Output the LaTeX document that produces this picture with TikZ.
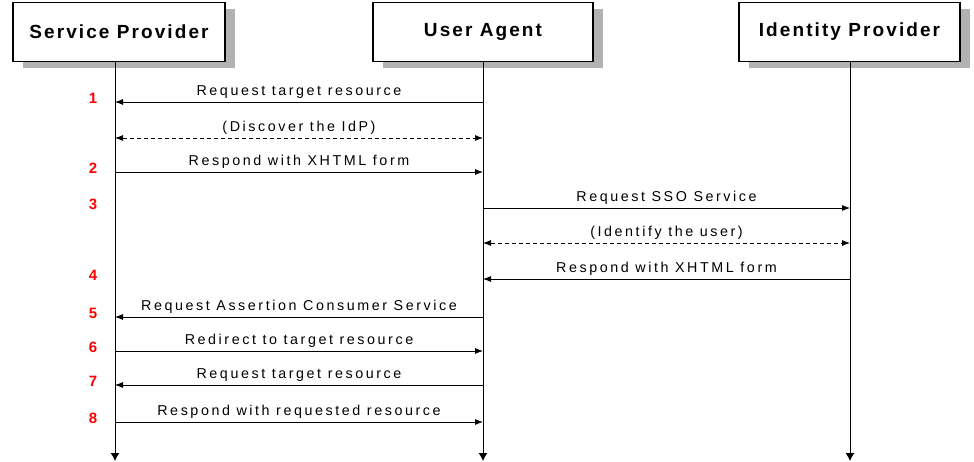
\documentclass[tikz,border=0pt]{standalone}
\usepackage{fontspec}
\usepackage{tikz}
\usetikzlibrary{arrows.meta,shadows}
\newfontfamily\lblfont[LetterSpace=18]{Liberation Sans}
\newfontfamily\ttlfont[LetterSpace=11]{Liberation Sans Bold}

\begin{document}
\begin{tikzpicture}[x=1pt,y=-1pt,
	actor_box/.style={rectangle,draw,line width=1.1pt,fill=white,minimum width=220pt,minimum height=59pt,
		font=\ttlfont\fontsize{19}{21}\selectfont,
		general shadow={fill=black!30,shadow xshift=10pt,shadow yshift=-7pt}},
	life_line/.style={draw,line width=1pt,-{Latex[length=8pt,width=9pt]}},
	msg/.style={draw,line width=0.8pt,-{Latex[length=8pt,width=6pt]}},
	msg_dashed/.style={msg,{Latex[length=8pt,width=6pt]}-{Latex[length=8pt,width=6pt]},dash pattern=on 4pt off 3pt},
	msg_label/.style={above,inner sep=3pt,font=\lblfont\fontsize{14.3}{16}\selectfont},
	step_num/.style={text=red,font=\fontspec{Liberation Sans Bold}\fontsize{15}{17}\selectfont}]
	\useasboundingbox (0,0) rectangle (974,462);
	\node[actor_box,minimum width=212pt] (sp) at (119,32) {Service Provider};
	\node[actor_box] (ua) at (483,32) {User Agent};
	\node[actor_box,minimum width=221pt] (idp) at (849.5,32) {Identity Provider};
	% lifelines
	\coordinate (sp_top) at (115,61);
	\coordinate (sp_end) at (115,461);
	\coordinate (ua_top) at (483,61);
	\coordinate (ua_end) at (483,461);
	\coordinate (idp_top) at (850,61);
	\coordinate (idp_end) at (850,461);
	\draw[life_line] (sp_top) -- (sp_end);
	\draw[life_line] (ua_top) -- (ua_end);
	\draw[life_line] (idp_top) -- (idp_end);
	% message rows
	\foreach \r/\y in {1/102,d1/138,2/172,3/208,d2/243,4/279,5/317,6/351,7/385,8/422} {
		\coordinate (sp\r) at (115,\y);
		\coordinate (ua\r) at (483,\y);
		\coordinate (idp\r) at (850,\y);
		\coordinate (n\r) at (93,\y-4);
	}
	\draw[msg] (ua1) -- node[msg_label] (m1) {Request target resource} (sp1);
	\draw[msg_dashed] (spd1) -- node[msg_label] (md1) {(Discover the IdP)} (uad1);
	\draw[msg] (sp2) -- node[msg_label] (m2) {Respond with XHTML form} (ua2);
	\draw[msg] (ua3) -- node[msg_label] (m3) {Request SSO Service} (idp3);
	\draw[msg_dashed] (uad2) -- node[msg_label] (md2) {(Identify the user)} (idpd2);
	\draw[msg] (idp4) -- node[msg_label] (m4) {Respond with XHTML form} (ua4);
	\draw[msg] (ua5) -- node[msg_label] (m5) {Request Assertion Consumer Service} (sp5);
	\draw[msg] (sp6) -- node[msg_label] (m6) {Redirect to target resource} (ua6);
	\draw[msg] (ua7) -- node[msg_label] (m7) {Request target resource} (sp7);
	\draw[msg] (sp8) -- node[msg_label] (m8) {Respond with requested resource} (ua8);
	% step numbers
	\foreach \r in {1,...,8} {
		\node[step_num] (s\r) at (n\r) {\r};
	}
\end{tikzpicture}
\end{document}
